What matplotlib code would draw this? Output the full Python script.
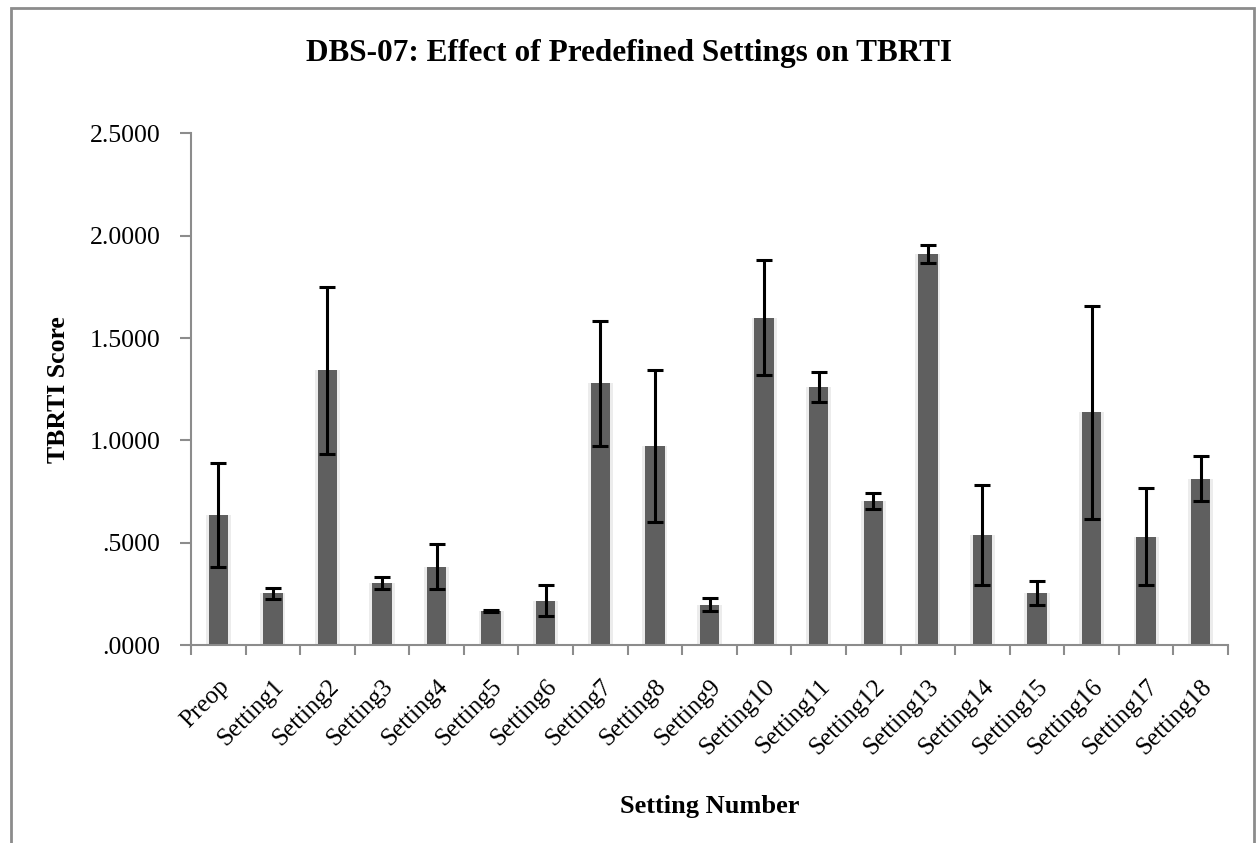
import matplotlib.pyplot as plt
from matplotlib.patches import Rectangle
from matplotlib.ticker import FuncFormatter, FixedLocator
import numpy as np

# data
settings = ['Preop'] + ['Setting%d' % i for i in range(1, 19)]
scores = [0.635, 0.252, 1.342, 0.304, 0.383, 0.165, 0.217, 1.279, 0.973, 0.197,
          1.600, 1.262, 0.704, 1.910, 0.536, 0.253, 1.137, 0.529, 0.813]
errors = [0.255, 0.025, 0.410, 0.030, 0.110, 0.006, 0.075, 0.305, 0.370, 0.033,
          0.280, 0.072, 0.040, 0.045, 0.245, 0.058, 0.520, 0.237, 0.110]

plt.rcParams['font.family'] = ['Liberation Serif', 'DejaVu Serif']

fig = plt.figure(figsize=(12.57, 8.43), dpi=100)
ax = fig.add_axes([191 / 1257, 1 - 645 / 843, (1228 - 191) / 1257, (645 - 133.5) / 843])

x = np.arange(len(settings))

# soft glow behind bars
ax.bar(x, scores, width=0.46, color='#ececec', zorder=1)
ax.bar(x, scores, width=0.355, color='#5f5f5f', zorder=2)
ax.errorbar(x, scores, yerr=errors, fmt='none', ecolor='black',
            elinewidth=2.2, capsize=6, capthick=2.2, zorder=3)

ax.set_xlim(-0.5, len(settings) - 0.5)
ax.set_ylim(0, 2.5)
ax.set_yticks(np.arange(0, 2.51, 0.5))


def fmt(v, pos):
    s = '%.4f' % v
    if s.startswith('0'):
        s = s[1:]
    return s


ax.yaxis.set_major_formatter(FuncFormatter(fmt))
ax.set_xticks(x)
ax.set_xticklabels(settings, rotation=45, ha='right', rotation_mode='anchor')
ax.xaxis.set_minor_locator(FixedLocator(np.arange(-0.5, len(settings), 1.0)))
ax.tick_params(axis='x', which='major', length=0, pad=22, labelsize=18)
ax.tick_params(axis='x', which='minor', length=7, width=1.5, color='#8c8c8c', direction='out')
ax.tick_params(axis='y', length=8, width=1.5, color='#8c8c8c', direction='out', pad=14, labelsize=18.5)

for side in ['top', 'right']:
    ax.spines[side].set_visible(False)
for side in ['left', 'bottom']:
    ax.spines[side].set_color('#8c8c8c')
    ax.spines[side].set_linewidth(1.5)

ax.set_ylabel('TBRTI Score', fontsize=18.5, fontweight='bold', labelpad=14)
ax.set_xlabel('Setting Number', fontsize=19, fontweight='bold', labelpad=26)

fig.text(0.5, 1 - 53 / 843, 'DBS-07: Effect of Predefined Settings on TBRTI',
         ha='center', va='center', fontsize=22.5, fontweight='bold')

# outer chart frame
fig.patches.append(Rectangle((11 / 1257, -0.05), (1254 - 11) / 1257, 1.05 - 8 / 843,
                             transform=fig.transFigure, fill=False,
                             edgecolor='#8c8c8c', linewidth=2))

fig.savefig('out.png', dpi=100)
